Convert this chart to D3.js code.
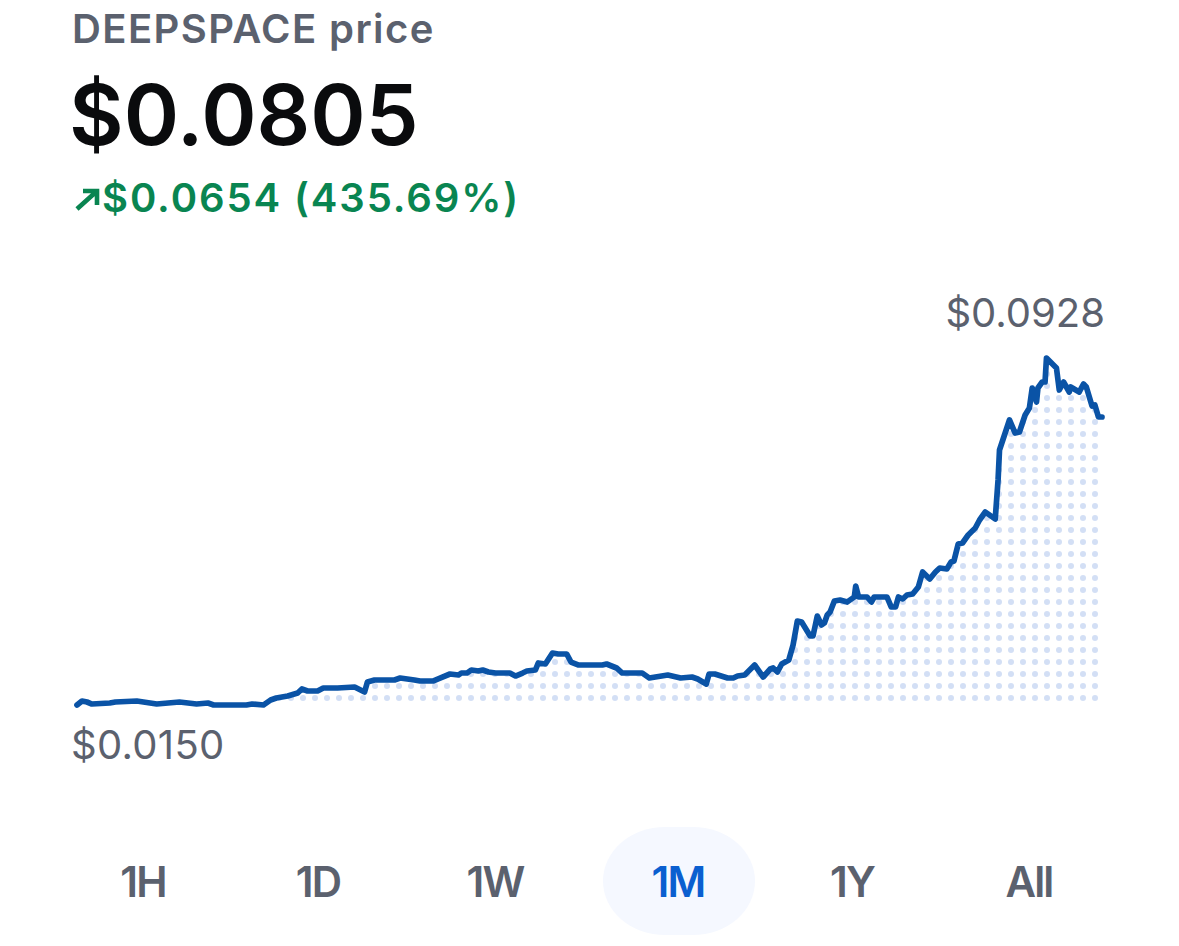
<!DOCTYPE html>
<html>
<head>
<meta charset="utf-8">
<script src="https://cdn.jsdelivr.net/npm/d3@7/dist/d3.min.js"></script>
<style>
html,body{margin:0;padding:0;background:#fff;}
svg{display:block;}
text{font-family:Inter,"Open Sans",sans-serif;}
</style>
</head>
<body>
<svg id="c" width="1179" height="946"></svg>
<script>
const titleText = "DEEPSPACE price";
const priceText = "$0.0805";
const changeText = "$0.0654 (435.69%)";
const maxLabel = "$0.0928";
const minLabel = "$0.0150";
const tabs = ["1H","1D","1W","1M","1Y","All"];
const activeTab = "1M";
const hours = [0,3.5,7,10.5,23,27,42,56,72,84,92,96,119,123,131,136,140,148,155,158,162,169,173,183,195,202,204,209,213,223,227,232,237,241,250,255,262,268,270,274,277,282,285,289,294,304,308,313,316,322,324,329,334,338,344,347,352,369,372,379,383,397,402,415,424,432,436,442,444,448,457,461,464,469,476,482,487,489,492,495,500,503,506,509,515,517,520,523,525,527,529,532,536,541,546,547,549,555,558,560,569,572,575,577,580,583,587,591,594,599,603,606,611,614,616,619,622,626,631,634,638,645,647,648,655,659,662,666,669,671,674,675,678,680,681,688,690,693,697,698,704,707,709,713,715,717.5,720];
const prices = [.0150,.0159,.01567,.01522,.01545,.01567,.0159,.01522,.01567,.01522,.01545,.0150,.0150,.01522,.0150,.01612,.01657,.01702,.01769,.01859,.01814,.01814,.01881,.01881,.01904,.01791,.02016,.02061,.02061,.02061,.02105,.02083,.02061,.02038,.02038,.02105,.02195,.02173,.02217,.02217,.02285,.02262,.02285,.0224,.02217,.02217,.0215,.02217,.02262,.02285,.02442,.02419,.02666,.02643,.02643,.02464,.02397,.02397,.02419,.0233,.02217,.02217,.02105,.02173,.02105,.02128,.02083,.01971,.02195,.02195,.02105,.02105,.0215,.02173,.02397,.02128,.02307,.0233,.0224,.02419,.02509,.02845,.03383,.03361,.03047,.03047,.03495,.03294,.03338,.03518,.03585,.03832,.03854,.03809,.03921,.04168,.03921,.03921,.03809,.03921,.03921,.03697,.03697,.03921,.03877,.03966,.03989,.04146,.04482,.04325,.04482,.04572,.04549,.04706,.04728,.0511,.05132,.05311,.05468,.05648,.05827,.0567,.06545,.07217,.0789,.07598,.07621,.08002,.08159,.08607,.08293,.08607,.08742,.08742,.0928,.09056,.08562,.08742,.08517,.0863,.08517,.08697,.0863,.08204,.08226,.07957,.07957];
const series = hours.map((h,i)=>({h,p:prices[i]}));

const svg = d3.select("#c");
const grey = "#5b616e", lineCol = "#0a53a6";

const x = d3.scaleLinear().domain([0,720]).range([77,1102]);
const y = d3.scaleLinear().domain([0.015,0.0928]).range([705,358]);

const defs = svg.append("defs");
const pat = defs.append("pattern").attr("id","dots").attr("patternUnits","userSpaceOnUse")
  .attr("width",12).attr("height",12).attr("x",1089).attr("y",692);
pat.append("circle").attr("cx",6).attr("cy",6).attr("r",3).attr("fill","#d3dff5");

const area = d3.area().x(d=>x(d.h)).y0(y(0.015)).y1(d=>y(d.p));
svg.append("path").datum(series).attr("d",area).attr("fill","url(#dots)");

const line = d3.line().x(d=>x(d.h)).y(d=>y(d.p));
svg.append("path").datum(series).attr("d",line).attr("fill","none")
  .attr("stroke",lineCol).attr("stroke-width",5.7)
  .attr("stroke-linejoin","round").attr("stroke-linecap","round");

svg.append("text").attr("x",72).attr("y",43).attr("font-size",40).attr("font-weight",600)
  .attr("letter-spacing",1.4).attr("fill",grey).text(titleText);
svg.append("text").attr("x",69).attr("y",145).attr("font-size",84).attr("font-weight",600).attr("fill","#0a0b0d").text(priceText);
const green = "#098551";
svg.append("path").attr("d","M77 209 L97 191 M83 191 H97 V205").attr("fill","none").attr("stroke",green).attr("stroke-width",4.6);
svg.append("text").attr("x",102).attr("y",212).attr("font-size",40).attr("font-weight",600)
  .attr("letter-spacing",1.9).attr("fill",green).text(changeText);

svg.append("text").attr("x",1105).attr("y",327).attr("text-anchor","end").attr("font-size",40).attr("font-weight",400).attr("fill",grey).text(maxLabel);
svg.append("text").attr("x",71).attr("y",759).attr("font-size",40).attr("font-weight",400).attr("letter-spacing",0.3).attr("fill",grey).text(minLabel);

const tabX = d3.scaleOrdinal().domain(tabs).range([143,318,495,678,852,1029]);
const pillW = 152, pillH = 108;
svg.append("rect").attr("x",tabX(activeTab)+1-pillW/2).attr("y",827).attr("width",pillW).attr("height",pillH)
  .attr("rx",62).attr("ry",54).attr("fill","#f5f8ff");
svg.selectAll("text.tab").data(tabs).join("text").attr("class","tab")
  .attr("x",d=>tabX(d)).attr("y",897).attr("text-anchor","middle")
  .attr("font-size",42).attr("font-weight",600).attr("letter-spacing",-1.8)
  .attr("fill",d=>d===activeTab?"#0a5fd0":grey).text(d=>d);
</script>
</body>
</html>
